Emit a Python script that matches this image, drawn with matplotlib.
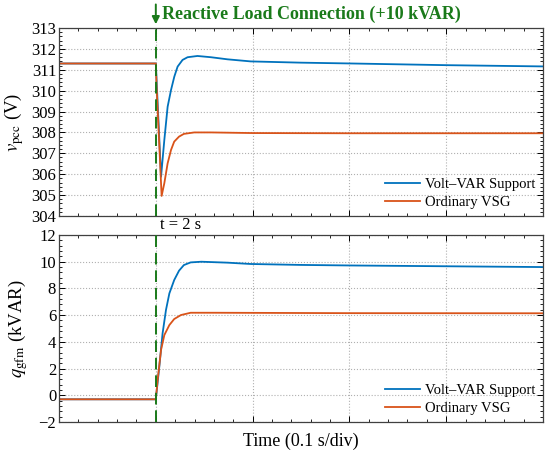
import numpy as np
import matplotlib
matplotlib.use('Agg')
import matplotlib.pyplot as plt
from matplotlib.ticker import AutoMinorLocator, MultipleLocator

plt.rcParams['font.family'] = ['Liberation Serif', 'DejaVu Serif']
plt.rcParams['mathtext.fontset'] = 'stix'

# time points (s) and values
t_v_vvs = [1.9, 2.0, 2.0054, 2.0088, 2.0122, 2.0157, 2.0191, 2.0225, 2.0276, 2.0328,
           2.043, 2.057, 2.074, 2.098, 2.15, 2.203, 2.3, 2.4]
v_vvs = [311.3, 311.3, 305.88, 307.64, 309.23, 310.03, 310.67, 311.15, 311.47, 311.6,
         311.66, 311.6, 311.5, 311.4, 311.34, 311.3, 311.22, 311.16]
t_v_vsg = [1.9, 2.0, 2.0008, 2.006, 2.0088, 2.0122, 2.0157, 2.019, 2.024, 2.029,
           2.0397, 2.057, 2.1, 2.2, 2.4]
v_vsg = [311.3, 311.3, 310.2, 304.96, 305.57, 306.52, 307.16, 307.56, 307.8, 307.93,
         308.0, 308.0, 307.97, 307.96, 307.96]

t_q_vvs = [1.9, 2.0, 2.0036, 2.007, 2.0105, 2.014, 2.019, 2.024, 2.029, 2.036,
           2.047, 2.074, 2.098, 2.15, 2.2, 2.3, 2.4]
q_vvs = [-0.3, -0.3, 2.14, 4.64, 6.39, 7.63, 8.63, 9.33, 9.75, 9.95,
         10.0, 9.93, 9.83, 9.76, 9.72, 9.66, 9.6]
t_q_vsg = [1.9, 2.0, 2.0019, 2.0054, 2.0088, 2.014, 2.019, 2.026, 2.036, 2.06, 2.2, 2.4]
q_vsg = [-0.3, -0.3, 1.15, 3.4, 4.51, 5.26, 5.71, 6.01, 6.18, 6.18, 6.15, 6.14]

c_blue = '#0072BD'
c_red = '#D95319'
c_green = '#1A7A1A'
t_event = 2.0

fig = plt.figure(figsize=(5.5, 4.55), dpi=100)
ax1 = fig.add_axes([0.1073, 0.5253, 0.88, 0.4132])
ax2 = fig.add_axes([0.1073, 0.0725, 0.88, 0.411])

def style(ax):
    ax.set_xlim(1.9, 2.4)
    ax.xaxis.set_major_locator(MultipleLocator(0.1))
    ax.xaxis.set_minor_locator(AutoMinorLocator(5))
    ax.yaxis.set_minor_locator(AutoMinorLocator(5))
    ax.tick_params(which='both', direction='in', top=True, right=True, labelsize=12, pad=2)
    ax.tick_params(which='major', length=4, width=0.7)
    ax.tick_params(which='minor', length=2, width=0.6)
    ax.tick_params(axis='x', labelbottom=False)
    ax.grid(True, which='major', linestyle=':', color='#b0b0b0', linewidth=0.8)
    for s in ax.spines.values():
        s.set_color('#404040')
        s.set_linewidth(0.9)
    ax.axvline(t_event, color=c_green, linestyle=(0, (6, 3)), linewidth=1.4, zorder=5)

def legend(ax):
    ax.legend(loc='lower right', frameon=False, fontsize=10.5, handlelength=2.4,
              borderaxespad=0.3, borderpad=0.2, labelspacing=0.3, handletextpad=0.4)

ax1.plot(t_v_vvs, v_vvs, color=c_blue, lw=1.3, label='Volt–VAR Support')
ax1.plot(t_v_vsg, v_vsg, color=c_red, lw=1.3, label='Ordinary VSG')
ax1.set_ylim(304, 313)
ax1.yaxis.set_major_locator(MultipleLocator(1))
style(ax1)
ax1.set_ylabel(r'$v_{\rm pcc}$ (V)', fontsize=13.5, labelpad=4)
legend(ax1)

ax2.plot(t_q_vvs, q_vvs, color=c_blue, lw=1.3, label='Volt–VAR Support')
ax2.plot(t_q_vsg, q_vsg, color=c_red, lw=1.3, label='Ordinary VSG')
ax2.set_ylim(-2, 12)
ax2.yaxis.set_major_locator(MultipleLocator(2))
style(ax2)
ax2.set_ylabel(r'$q_{\rm gfm}$ (kVAR)', fontsize=13.5, labelpad=6)
ax2.set_xlabel('Time (0.1 s/div)', fontsize=13, labelpad=6)
legend(ax2)
ax2.set_yticklabels([str(int(v)).replace('-', '\u2212') for v in ax2.get_yticks()])

# event annotation
ax1.annotate('', xy=(t_event, 1.005), xytext=(t_event, 1.14),
             xycoords=('data', 'axes fraction'),
             arrowprops=dict(arrowstyle='-|>', color=c_green, lw=1.4, mutation_scale=11))
ax1.text(t_event + 0.006, 1.075, 'Reactive Load Connection (+10 kVAR)',
         transform=ax1.get_xaxis_transform(), color=c_green, fontsize=13,
         fontweight='bold', va='center', ha='left')
ax1.text(t_event + 0.004, -0.05, 't = 2 s', transform=ax1.get_xaxis_transform(),
         fontsize=12, va='center', ha='left')

fig.savefig('out.png', dpi=100)
